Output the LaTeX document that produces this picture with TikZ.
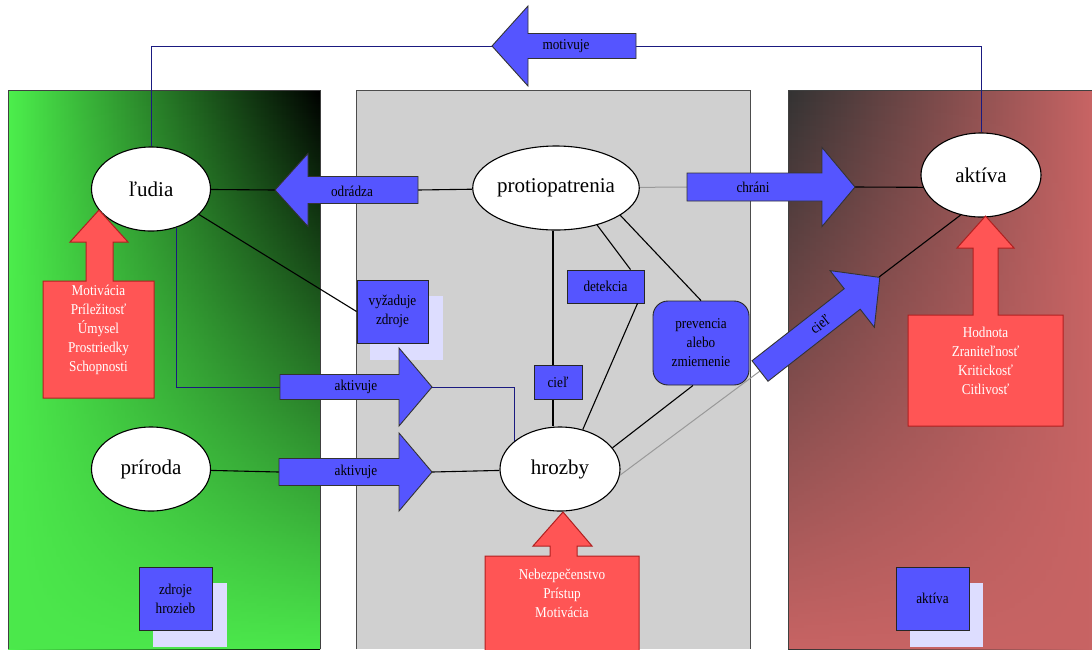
\documentclass[tikz,border=0pt]{standalone}
\usepackage{fontspec}
\setmainfont{Liberation Serif}
\newfontfamily\smallf[FakeStretch=0.88]{Liberation Serif}
\usetikzlibrary{shapes.geometric,fadings,calc}

\definecolor{bluefill}{HTML}{5555FF}
\definecolor{redfill}{HTML}{FF5555}
\definecolor{redline}{HTML}{B02020}
\definecolor{navy}{HTML}{1A1A80}
\definecolor{shadowc}{HTML}{DDDDFF}
\definecolor{greenA}{HTML}{4CF04C}
\definecolor{greenB}{HTML}{4CE84C}
\definecolor{redA}{HTML}{C86464}
\definecolor{darkA}{HTML}{333333}
\definecolor{panelgray}{HTML}{D0D0D0}

\tikzfading[name=fadegreen, top color=transparent!100, middle color=transparent!85, bottom color=transparent!0]
\tikzfading[name=fadered, top color=transparent!100, bottom color=transparent!0]

\newcommand\lblfont{\smallf\fontsize{15}{19}\selectfont}
\newcommand\ellfont{\fontsize{21}{24}\selectfont}
% #1 style, #2 length, #3 shaft half width, #4 head half width, #5 head length
\newcommand\blockarr[5]{%
  \path[#1] (0,-#3) -- ({#2-#5},-#3) -- ({#2-#5},-#4) -- (#2,0) -- ({#2-#5},#4) -- ({#2-#5},#3) -- (0,#3) -- cycle;}

\tikzset{
  conn/.style={draw=black, line width=1.1pt},
  navyline/.style={draw=navy, line width=0.8pt},
  grayline/.style={draw=black!40, line width=1pt},
  ell/.style={ellipse, draw=black, line width=1.1pt, fill=white, inner sep=0pt, font=\ellfont},
  bbox/.style={draw=black!85, line width=0.9pt, fill=bluefill, font=\lblfont, align=center, inner sep=0pt},
  barrow/.style={draw=black!80, line width=0.9pt, fill=bluefill},
  redarr/.style={draw=redline, line width=1pt, fill=redfill},
  lbl/.style={font=\lblfont, text=black, inner sep=0pt},
  redtxt/.style={font=\lblfont, text=white, align=center, inner sep=0pt},
  shadowbox/.style={fill=shadowc},
  panelborder/.style={draw=black!75, line width=0.8pt},
}

\begin{document}
\begin{tikzpicture}[x=1pt, y=-1pt]
\useasboundingbox (0,0) rectangle (1092,649);
\clip (0,0) rectangle (1092,649);
\fill[white] (0,0) rectangle (1092,649);

% ---------- panels ----------
\shade[left color=greenA, right color=black] (8,90) rectangle (320,649);
\fill[greenB, path fading=fadegreen] (8,90) rectangle (320,649);
\draw[panelborder] (8,649) |- (320,90) -- (320,649);

\fill[panelgray] (356,90) rectangle (750,649);
\draw[panelborder, draw=black!70] (356,649) |- (750,90) -- (750,649);

\shade[left color=darkA, right color=redA] (788,90) rectangle (1092,649);
\fill[redA, path fading=fadered] (788,90) rectangle (1092,649);
\draw[panelborder] (788,649) -- (788,90) -- (1092,90);

% ---------- shadows ----------
\fill[shadowbox] (370,296) rectangle (443,360);
\fill[shadowbox] (153,583) rectangle (227,647);
\fill[shadowbox] (910,583) rectangle (983,647);

% ---------- ellipses ----------
\node[ell, minimum width=119pt, minimum height=84pt] (ludia) at (151,189) {ľudia};
\node[ell, minimum width=119pt, minimum height=84pt] (priroda) at (151,469) {príroda};
\node[ell, minimum width=159pt, minimum height=84pt] (prot) at (556,188) {protiopatrenia};
\node[ell, minimum width=120pt, minimum height=84pt] (hrozby) at (560,469) {hrozby};
\node[ell, minimum width=120pt, minimum height=84pt] (aktiva) at (981,175) {aktíva};

% ---------- connector end points ----------
\coordinate (odrtip) at (275,190);
\coordinate (odrtail) at (418,190);
\coordinate (chrtail) at (687,187);
\coordinate (chrtip) at (855,187);
\coordinate (akt1tail) at (280,387);
\coordinate (akt1tip) at (432,387);
\coordinate (akt2tail) at (279,472);
\coordinate (akt2tip) at (432,472);
\coordinate (mottip) at (492,46);
\coordinate (mottail) at (636,46);
\coordinate (cieltail) at (760,371);
\coordinate (cieltip) at (879,277);
\coordinate (vline) at (553,0);

% ---------- boxes ----------
\node[bbox, minimum width=71pt, minimum height=63pt] (vyz) at (392.5,311.5) {vyžaduje\\zdroje};
\node[bbox, minimum width=77pt, minimum height=33pt] (det) at (605.5,286.5) {detekcia};
\node[bbox, minimum width=96pt, minimum height=84pt, rounded corners=15pt] (prev) at (701,343) {prevencia\\alebo\\zmiernenie};
\node[bbox, minimum width=73pt, minimum height=63pt] (zdroje) at (175.5,598.5) {zdroje\\hrozieb};
\node[bbox, minimum width=73pt, minimum height=63pt] (aktbox) at (932.5,598.5) {aktíva};

% ---------- connectors ----------
\draw[navyline] (ludia.north) |- (mottip);
\draw[navyline] (mottail) -| (aktiva.north);
\draw[navyline] (ludia.-57) |- (akt1tail);
\draw[navyline] (akt1tip) -| (hrozby.148);

\draw[conn] (ludia) -- (odrtip);
\draw[conn] (odrtail) -- (prot);
\draw[grayline] (prot) -- (chrtail);
\draw[conn] (chrtip) -- (aktiva.-168);
\draw[conn] (cieltip) -- (aktiva.-117);
\draw[conn] (ludia.-28) -- (vyz.west);
\draw[conn] (priroda) -- (akt2tail);
\draw[conn] (akt2tip) -- (hrozby);
\draw[conn] (prot.south -| vline) -- (hrozby.north -| vline);
\draw[grayline] (hrozby.-6) -- (cieltail);
\draw[conn] (prot.-42) -- ([xshift=25pt]det.north);
\draw[conn] ([xshift=32pt]det.south) -- (hrozby.60);
\draw[conn] (prot.-23) -- (prev.north);
\draw[conn] ([xshift=-8pt]prev.south) -- (hrozby.22);

% cieľ box on top of the vertical line
\node[bbox, minimum width=48pt, minimum height=34pt] (cielbox) at (558,382) {cieľ};

% ---------- blue block arrows ----------
\begin{scope}[shift={(636,46)}, rotate=180]
  \blockarr{barrow}{144}{12.5}{40}{36}
\end{scope}
\node[lbl] (mot) at (566,46) {motivuje};

\begin{scope}[shift={(418,190)}, rotate=180]
  \blockarr{barrow}{143}{13.5}{36.5}{33}
\end{scope}
\node[lbl] (odr) at (352,191) {odrádza};

\begin{scope}[shift={(687,187)}]
  \blockarr{barrow}{168}{14}{39.5}{33}
\end{scope}
\node[lbl] (chr) at (753,187) {chráni};

\begin{scope}[shift={(280,387)}]
  \blockarr{barrow}{152}{12.5}{39}{33}
\end{scope}
\node[lbl] (akt1) at (356,387) {aktivuje};

\begin{scope}[shift={(279,472)}]
  \blockarr{barrow}{153}{13.5}{39}{33}
\end{scope}
\node[lbl] (akt2) at (356,472) {aktivuje};

\begin{scope}[shift={(760,371)}, rotate=38]
  \blockarr{barrow}{152}{13}{36}{35}
  \node[lbl, transform shape] (cielarr) at (76,0) {cieľ};
\end{scope}

% ---------- red block arrows ----------
\path[redarr] (43,398) -- (154,398) -- (154,281) -- (113,281) -- (113,242) -- (128,242) -- (99,210)
  -- (70,242) -- (86,242) -- (86,281) -- (43,281) -- cycle;
\node[redtxt] (ludiared) at (98.5,330) {Motivácia\\Príležitosť\\Úmysel\\Prostriedky\\Schopnosti};

\path[redarr] (908,426) -- (1063,426) -- (1063,315) -- (998,315) -- (998,248) -- (1014,248) -- (985.5,216)
  -- (957,248) -- (973,248) -- (973,315) -- (908,315) -- cycle;
\node[redtxt] (aktivared) at (985.5,361) {Hodnota\\Zraniteľnosť\\Kritickosť\\Citlivosť};

\path[redarr] (485,660) -- (639,660) -- (639,556) -- (577,556) -- (577,546) -- (592,546) -- (563,512)
  -- (533,546) -- (550,546) -- (550,556) -- (485,556) -- cycle;
\node[redtxt] (hrozbyred) at (562,593.5) {Nebezpečenstvo\\Prístup\\Motivácia};
\end{tikzpicture}
\end{document}
